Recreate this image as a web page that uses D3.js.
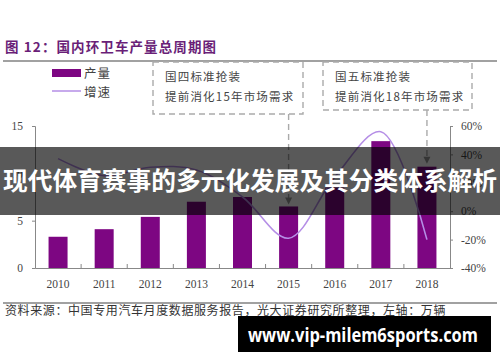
<!DOCTYPE html>
<html><head><meta charset="utf-8">
<script src="https://cdn.jsdelivr.net/npm/d3@7/dist/d3.min.js"></script>
<style>
html,body{margin:0;padding:0;background:#fff;}
svg{display:block;}
</style></head>
<body>
<svg id="c" width="500" height="362"></svg>
<script>
const years = ['2010','2011','2012','2013','2014','2015','2016','2017','2018'];
const production = [3.3, 4.1, 5.4, 7.0, 7.5, 6.5, 8.5, 13.4, 10.7];
const growth = [37, 25, 31, 29, 10, -19, 24, 56, -20];
const leftTicks = [0, 5, 10, 15];
const rightTicks = [-40, -20, 0, 20, 40, 60];
const titleText = '图 12：国内环卫车产量总周期图';
const legendLabels = ['产量', '增速'];
const note1 = ['国四标准抢装', '提前消化15年市场需求'];
const note2 = ['国五标准抢装', '提前消化18年市场需求'];
const sourceText = '资料来源：中国专用汽车月度数据服务报告，光大证券研究所整理，左轴：万辆';
const bannerText = '现代体育赛事的多元化发展及其分类体系解析';
const watermarkText = 'www.vip-milem6sports.com';

const svg = d3.select('#c');
const cjk = '"Noto Sans CJK SC", "Noto Sans", sans-serif';
const serif = '"Liberation Serif", "DejaVu Serif", serif';
const barColor = '#7d0682';
const lineColor = '#b58ee6';

const x = d3.scaleBand().domain(years).range([35, 450]);
const yL = d3.scaleLinear().domain([0, 15]).range([268, 126]);
const yR = d3.scaleLinear().domain([-40, 60]).range([268, 126]);

// title
svg.append('text').attr('x', 5).attr('y', 52).text(titleText)
  .attr('font-family', cjk).attr('font-weight', 700).attr('font-size', 13.5)
  .attr('fill', '#6a1f78').attr('letter-spacing', 1.1);
svg.append('line').attr('x1', 3).attr('x2', 497).attr('y1', 61).attr('y2', 61)
  .attr('stroke', '#444').attr('stroke-width', 1.2);

// legend
svg.append('rect').attr('x', 52).attr('y', 69).attr('width', 29).attr('height', 8).attr('fill', barColor);
svg.append('line').attr('x1', 52).attr('x2', 81).attr('y1', 91).attr('y2', 91).attr('stroke', lineColor).attr('stroke-width', 1.5);
svg.append('text').attr('x', 84).attr('y', 78).text(legendLabels[0])
  .attr('font-family', cjk).attr('font-size', 12.5).attr('fill', '#444').attr('letter-spacing', 1);
svg.append('text').attr('x', 84).attr('y', 97).text(legendLabels[1])
  .attr('font-family', cjk).attr('font-size', 12.5).attr('fill', '#444').attr('letter-spacing', 1);

// bars
svg.append('g').selectAll('rect').data(years).join('rect')
  .attr('x', d => x(d) + x.bandwidth() / 2 - 9.5)
  .attr('width', 19)
  .attr('y', (d, i) => yL(production[i]))
  .attr('height', (d, i) => yL(0) - yL(production[i]))
  .attr('fill', barColor);

// axes
const axisColor = '#888';
const gL = svg.append('g').attr('transform', 'translate(35,0)')
  .call(d3.axisLeft(yL).tickValues(leftTicks).tickSize(3).tickPadding(9).tickFormat(d3.format('d')));
const gR = svg.append('g').attr('transform', 'translate(450,0)')
  .call(d3.axisRight(yR).tickValues(rightTicks).tickSize(3).tickPadding(8).tickFormat(d => d + '%'));
const gX = svg.append('g').attr('transform', 'translate(0,268)')
  .call(d3.axisBottom(x).tickSize(0).tickPadding(12));
svg.append('g').selectAll('line').data(years.slice(1)).join('line')
  .attr('x1', d => x(d)).attr('x2', d => x(d)).attr('y1', 268).attr('y2', 264)
  .attr('stroke', axisColor);
[gL, gR, gX].forEach(g => {
  g.selectAll('path.domain').attr('stroke', axisColor);
  g.selectAll('.tick line').attr('stroke', axisColor);
  g.selectAll('text').attr('font-family', serif).attr('font-size', 11.5).attr('fill', '#444');
});

// growth line
const line = d3.line().x((d, i) => x(years[i]) + x.bandwidth() / 2).y(d => yR(d)).curve(d3.curveCatmullRom.alpha(0.5));
svg.append('path').datum(growth).attr('d', line).attr('fill', 'none')
  .attr('stroke', lineColor).attr('stroke-width', 1.6);

// annotation boxes
const dashC = '#aaa';
function note(x0, y0, w, h, lines, ax, ay1, ay2) {
  svg.append('rect').attr('x', x0).attr('y', y0).attr('width', w).attr('height', h)
    .attr('fill', 'none').attr('stroke', dashC).attr('stroke-width', 1.4).attr('stroke-dasharray', '6,4');
  lines.forEach((t, i) => svg.append('text').attr('x', x0 + 12).attr('y', y0 + 19 + i * 20).text(t)
    .attr('font-family', cjk).attr('font-size', 11.5).attr('fill', '#444').attr('letter-spacing', 1.2));
  svg.append('line').attr('x1', ax).attr('x2', ax).attr('y1', ay1).attr('y2', ay2 - 6)
    .attr('stroke', dashC).attr('stroke-width', 1.4).attr('stroke-dasharray', '6,4');
  svg.append('path').attr('d', `M${ax - 3.5},${ay2 - 7}L${ax + 3.5},${ay2 - 7}L${ax},${ay2}Z`).attr('fill', '#999');
}
note(153, 62, 150, 52, note1, x('2015') + x.bandwidth() / 2, 114, yL(production[5]) - 2);
note(323, 62, 149, 48, note2, x('2018') + x.bandwidth() / 2, 110, yL(production[8]) - 3);

// bottom rule and source
svg.append('line').attr('x1', 3).attr('x2', 497).attr('y1', 303).attr('y2', 303)
  .attr('stroke', '#444').attr('stroke-width', 1.2);
svg.append('text').attr('x', 5).attr('y', 315).text(sourceText)
  .attr('font-family', cjk).attr('font-size', 12).attr('fill', '#333').attr('letter-spacing', 0.6);

// banner overlay
svg.append('rect').attr('x', 0).attr('y', 147).attr('width', 500).attr('height', 68).attr('fill', 'rgba(0,0,0,0.65)');
svg.append('text').attr('x', 250).attr('y', 190).attr('text-anchor', 'middle').text(bannerText)
  .attr('font-family', cjk).attr('font-weight', 700).attr('font-size', 24.5).attr('fill', '#fff')
  .attr('textLength', 494).attr('lengthAdjust', 'spacingAndGlyphs');

// watermark
svg.append('rect').attr('x', 238).attr('y', 316).attr('width', 253).attr('height', 36).attr('fill', '#000');
svg.append('text').attr('x', 248).attr('y', 342).text(watermarkText)
  .attr('font-family', '"Open Sans", "DejaVu Sans", sans-serif').attr('font-weight', 700).attr('font-size', 20)
  .attr('fill', '#fff').attr('textLength', 230).attr('lengthAdjust', 'spacingAndGlyphs');
</script>
</body></html>
